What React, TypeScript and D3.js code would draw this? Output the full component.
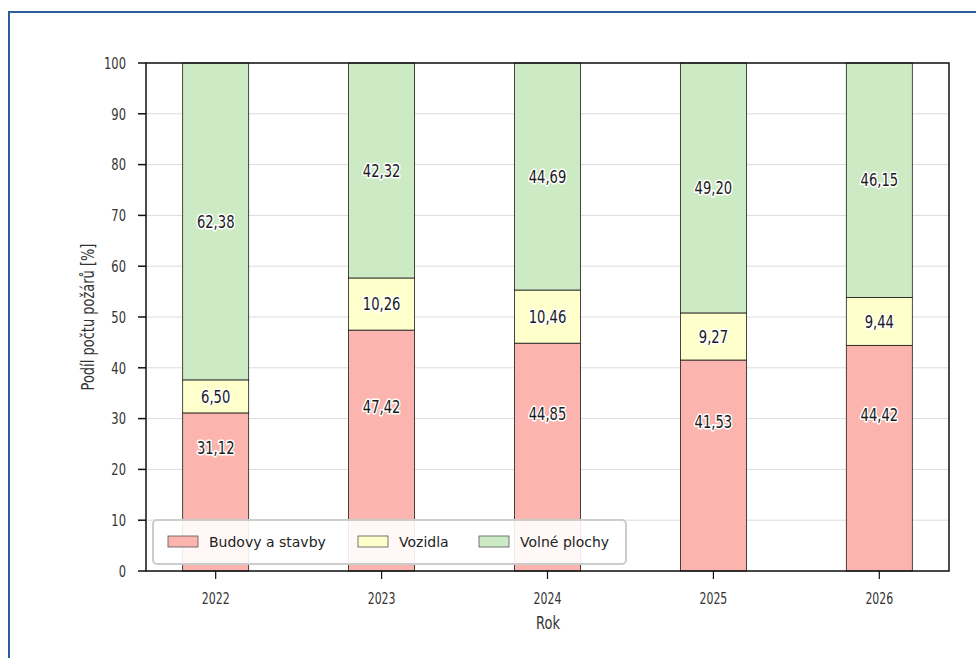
import React from "react";
import * as d3 from "d3";

const years = ["2022", "2023", "2024", "2025", "2026"];
const budovy = [31.12, 47.42, 44.85, 41.53, 44.42];
const vozidla = [6.5, 10.26, 10.46, 9.27, 9.44];
const volne = [62.38, 42.32, 44.69, 49.2, 46.15];
const seriesNames = ["Budovy a stavby", "Vozidla", "Volné plochy"];
const seriesColors = ["#fbb4ae", "#ffffcc", "#ccebc5"];
const yTicks = [0, 10, 20, 30, 40, 50, 60, 70, 80, 90, 100];
// first series labels are lifted by this many % units above the segment centre
const firstLabelLift = 8.6;

const W = 976;
const H = 658;
const left = 146;
const right = 949;
const top = 63;
const bottom = 571;
const barW = 66;

const condensed = "'Liberation Sans Narrow', 'DejaVu Sans Condensed', 'Roboto Condensed', Roboto, sans-serif";

function NText(props: {
  x: number;
  y: number;
  sx: number;
  size: number;
  anchor: string;
  fill?: string;
  halo?: boolean;
  children: any;
}) {
  const { x, y, sx, size, anchor, fill, halo, children } = props;
  return (
    <g transform={`translate(${x},${y}) scale(${sx},1)`}>
      <text
        x={0}
        y={0}
        dy="0.36em"
        textAnchor={anchor}
        fontFamily={condensed}
        fontSize={size}
        fill={fill || "#222"}
        stroke={halo ? "#fff" : "none"}
        strokeWidth={halo ? 3.2 : 0}
        strokeLinejoin="round"
        style={{ paintOrder: "stroke" }}
      >
        {children}
      </text>
    </g>
  );
}

export default function App() {
  const x = d3.scalePoint<string>().domain(years).range([left, right]).padding(0.42);
  const y = d3.scaleLinear().domain([0, 100]).range([bottom, top]);
  const seriesData = [budovy, vozidla, volne];
  const table = years.map((yr, i) => ({ year: yr, s0: budovy[i], s1: vozidla[i], s2: volne[i] }));
  const stack = d3.stack<any>().keys(["s0", "s1", "s2"])(table);
  const fmt = (v: number) => v.toFixed(2).replace(".", ",");

  return (
    <svg width={W} height={H} style={{ position: "absolute", left: 0, top: 0, background: "#fff" }}>
      <rect x={9} y={12} width={W + 10} height={H + 10} fill="#fff" stroke="#2b5d9c" strokeWidth={2} />
      {/* grid */}
      {yTicks.map((t) => (
        <line key={"g" + t} x1={left} x2={right} y1={y(t)} y2={y(t)} stroke="#dcdcdc" strokeWidth={1} />
      ))}
      {/* bars */}
      {stack.map((layer, si) => (
        <g key={"l" + si}>
          {layer.map((d, i) => (
            <rect
              key={i}
              x={(x(years[i]) as number) - barW / 2}
              y={y(d[1])}
              width={barW}
              height={y(d[0]) - y(d[1])}
              fill={seriesColors[si]}
              stroke="#1a1a1a"
              strokeWidth={0.8}
            />
          ))}
        </g>
      ))}
      {/* labels */}
      {stack.map((layer, si) => (
        <g key={"t" + si}>
          {layer.map((d, i) => {
            const c = (d[0] + d[1]) / 2 + (si === 0 ? firstLabelLift : 0);
            return (
              <NText key={i} x={x(years[i]) as number} y={y(c)} sx={0.86} size={17} anchor="middle" fill="#1a1a1a" halo>
                {fmt(seriesData[si][i])}
              </NText>
            );
          })}
        </g>
      ))}
      {/* frame */}
      <rect x={left} y={top} width={right - left} height={bottom - top} fill="none" stroke="#111" strokeWidth={1.5} />
      {/* y ticks */}
      {yTicks.map((t) => (
        <g key={"y" + t}>
          <line x1={left - 8} x2={left} y1={y(t)} y2={y(t)} stroke="#111" strokeWidth={1.5} />
          <NText x={left - 20} y={y(t)} sx={0.8} size={16} anchor="end" fill="#333">
            {t}
          </NText>
        </g>
      ))}
      {/* x ticks */}
      {years.map((yr) => (
        <g key={"x" + yr}>
          <line x1={x(yr) as number} x2={x(yr) as number} y1={bottom} y2={bottom + 8} stroke="#111" strokeWidth={1.2} />
          <NText x={x(yr) as number} y={bottom + 27} sx={0.76} size={16} anchor="middle" fill="#333">
            {yr}
          </NText>
        </g>
      ))}
      <NText x={(left + right) / 2 + 0.5} y={623} sx={0.85} size={17} anchor="middle" fill="#333">
        Rok
      </NText>
      <g transform={`translate(88,${(top + bottom) / 2}) rotate(-90)`}>
        <NText x={0} y={0} sx={0.85} size={17} anchor="middle" fill="#333">
          Podíl počtu požárů [%]
        </NText>
      </g>
      {/* legend */}
      <g>
        <rect x={153} y={520} width={473} height={44} rx={4} fill="#fff" fillOpacity={0.9} stroke="#cccccc" strokeWidth={2} />
        {seriesNames.map((n, i) => {
          const xs = [168, 358, 479][i];
          return (
            <g key={n}>
              <rect x={xs} y={536} width={30} height={11} fill={seriesColors[i]} stroke="#555" strokeWidth={0.8} />
              <text x={xs + 41} y={542} dy="0.35em" fontFamily="'DejaVu Sans', sans-serif" fontSize={14} fill="#222">
                {n}
              </text>
            </g>
          );
        })}
      </g>
    </svg>
  );
}
